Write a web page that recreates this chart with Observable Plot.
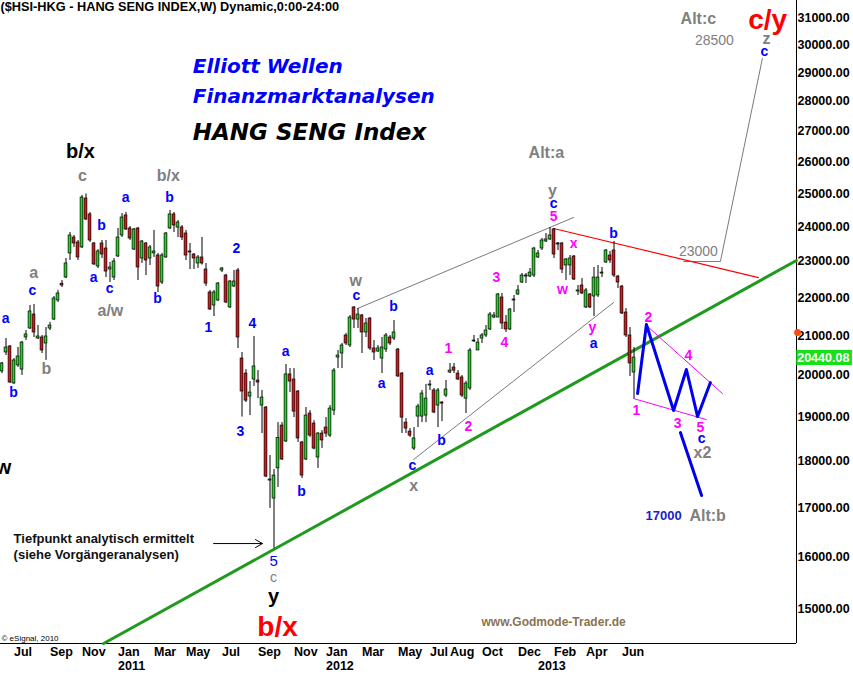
<!DOCTYPE html>
<html><head><meta charset="utf-8">
<script src="https://cdn.jsdelivr.net/npm/d3@7"></script>
<script src="https://cdn.jsdelivr.net/npm/@observablehq/plot@0.6"></script>
<style>
body{margin:0;background:#fff;}
#chart{position:absolute;left:0;top:0;}
</style></head><body><div id="chart"></div>
<script>
// ---- weekly bars, first bar = week of 2010-06-14 ----
const firstWeek = "2010-06-14";
const open = [20094,20568,20720,19800,20243,20140,20950,21183,21550,20924,20950,20796,21182,21417,21924,22380,22551,23228,23688,23543,
23400,24850,24368,23515,22860,23515,23370,22775,22551,23142,23747,24338,23952,23340,23952,23085,23515,23085,23228,23170,
22414,23114,23952,24368,23981,23981,23805,23285,23199,22944,23114,22775,22141,21790,21924,22746,22607,21737,22304,22746,
20416,20042,19484,19896,19871,19270,19223,17574,17190,17838,18802,18437,20020,19896,19605,18415,18034,19081,18848,18078,
18618,18756,18572,19152,20441,20542,21002,20745,21737,21417,21524,21080,21443,20669,20593,20416,20643,20950,20924,20643,
20042,18870,18664,18278,19011,19011,19034,19750,19629,19270,19340,19508,20068,20191,20042,19946,19435,19678,20850,20618,
20924,21002,21157,21470,21470,22005,21337,21157,21924,22087,22414,22607,22579,22607,23114,23370,23572,23631,23923,23515,
23515,22888,22888,23142,22168,22331,21737,22087,22032,22060,22663,22972,23170,23313,22579,22304,21603,21002,20068];
const high = [20317,20924,20745,20416,20694,20850,21130,21790,21817,21260,21002,21208,21340,22032,22196,22469,23085,23835,23747,23601,
24942,24988,24428,23540,23340,23601,23601,22972,23085,23952,24398,24428,24010,23952,23981,23601,23543,23457,23893,23228,
23228,23835,24487,24428,24187,24040,23893,23515,23220,23170,23688,22944,22196,22196,22414,22832,22640,22469,22746,22803,
20567,20140,19847,20976,20116,19629,19247,18123,17816,18870,18870,20268,20166,20166,19629,18440,19223,19152,18916,18640,
18687,18987,19270,20166,20618,20796,21053,21524,21763,21710,21550,21443,21470,20872,20745,20950,21053,21002,21390,20669,
20070,18963,18733,18756,19300,19629,19774,19871,19678,19678,19364,19871,20292,20292,20116,19995,19850,20669,21002,20924,
21053,21260,21604,21604,22114,22114,21524,21710,22060,22331,22663,22663,22803,23400,23313,23659,23805,23981,23952,23543,
23540,23085,23170,23170,22331,22523,22250,22114,22832,22888,22832,23340,23285,23572,22607,22330,21710,21208,20694];
const low = [20040,20491,19800,19780,20193,19995,20872,21157,20950,20898,20542,20367,21130,21390,21870,22277,22523,23028,23400,23028,
23370,24187,23543,22888,22803,23085,22551,22414,22469,23114,23688,23893,23601,23313,22469,22944,22607,22888,23114,22141,
22358,23090,23923,23835,23688,23601,23028,22775,22775,22803,22900,22304,21657,21497,21897,22689,21840,21710,22280,20669,
18999,19340,19034,19726,19435,18618,17638,16983,16170,17425,18011,18414,19580,18987,18415,17618,18011,18530,18250,17838,
18278,18530,18530,19034,20166,20166,20745,20694,21183,21183,20542,20950,20618,20367,20567,20042,20567,20745,20872,19946,
18618,18618,18530,18234,18756,18870,18870,19629,19081,18756,18893,19460,20040,20042,19871,19460,19081,19629,20820,20618,
20796,20950,21130,21443,21470,21157,21080,21130,21604,22060,22385,22385,22551,22551,23085,23313,23543,23601,23085,23313,
22660,22469,22607,22469,22060,22087,21710,21710,21497,22005,22551,22944,22944,22551,22250,21550,20950,19970,19426];
const close = [20293,20694,19823,20367,20466,20820,21028,21630,21080,20976,20618,20976,21260,21978,22114,22331,22944,23747,23515,23114,
24880,24217,23601,22917,23285,23199,22718,22832,23000,23688,24277,23923,23659,23923,22832,23572,23028,23400,23285,22304,
23170,23805,24368,24040,24128,23688,23170,23257,23085,23114,22944,22385,21683,22141,22385,22803,21870,22441,22441,20950,
19605,19387,19580,20218,19822,19460,17660,17596,17682,18520,18034,20020,19847,19128,18507,17682,19034,18572,18278,18618,
18461,18618,19199,20116,20491,20745,20796,21470,21417,21550,21080,21313,20669,20567,20669,20694,21002,20796,21080,19971,
18987,18733,18572,18507,19247,19556,19435,19774,19105,19629,19317,19653,20116,20116,19896,19508,19798,20618,20872,20820,
21002,21130,21550,21524,22087,21313,21157,21683,21951,22196,22607,22579,22689,23370,23228,23601,23631,23747,23199,23486,
22775,23057,23085,22496,22196,22114,22196,21737,22551,22551,22689,23313,23028,22607,22414,21577,21002,20292,20440.08];
const lastPrice = 20440.08;

// ---- axes ----
const yTicks = [15000,16000,17000,18000,19000,20000,21000,22000,23000,24000,25000,26000,27000,28000,29000,30000,31000];
const monthTicks = ["2010-07-05","2010-09-06","2010-11-01","2011-01-03","2011-03-07","2011-05-02","2011-07-04","2011-09-05","2011-11-07","2012-01-02","2012-03-05","2012-05-07","2012-07-02","2012-08-06","2012-10-01","2012-12-03","2013-02-04","2013-04-01","2013-06-03"];
const monthLabels = ["Jul","Sep","Nov","Jan","Mar","May","Jul","Sep","Nov","Jan","Mar","May","Jul","Aug","Oct","Dec","Feb","Apr","Jun"];
const yearTicks = ["2011-01-03","2012-01-02","2013-01-07"];
const yearLabels = ["2011","2012","2013"];

// ---- annotations: [week number, price, text] ----
const blueLabels = [[0.9,21444,"a"],[2.9,19581,"b"],[7.6,22196,"c"],[24.9,24040,"b"],[22.9,22551,"a"],[26.9,22250,"c"],
[30.9,24881,"a"],[41.9,24881,"b"],[38.9,21978,"b"],[51.6,21208,"1"],[58.6,23370,"2"],[62.6,21312,"4"],[59.6,18664,"3"],
[70.9,20592,"a"],[74.9,17339,"b"],[88.6,22060,"c"],[97.9,21764,"b"],[94.9,19799,"a"],[102.6,17903,"c"],[106.9,20116,"a"],
[109.9,18461,"b"],[147.9,20796,"a"],[137.9,24698,"c"],[152.9,23805,"b"],[174.9,18505,"c"],[190.6,29768,"c"]];
const blueThinLabels = [[67.9,15910,"5"]];
const magentaLabels = [[111.6,20668,"1"],[116.6,18780,"2"],[123.6,22551,"3"],[125.6,20820,"4"],[137.9,24308,"5"],
[140.1,22223,"w"],[142.9,23515,"x"],[147.6,21208,"y"],[161.6,21470,"2"],[158.6,19152,"1"],[171.6,20491,"4"],
[168.9,18848,"3"],[174.6,18756,"5"]];
const greyLabels = [[20.1,25563,"c"],[41.6,25563,"b/x"],[7.9,22690,"a"],[11.1,20167,"b"],[27.1,21657,"a/w"],
[88.4,22469,"w"],[102.9,17467,"x"],[137.6,25095,"y"],[136.1,26294,"Alt:a"],[175.1,18190,"x2"],[176.4,16833,"Alt:b"],
[174.1,31000,"Alt:c"],[191.1,30240,"z"]];
const greyThinLabels = [[178.1,30173,"28500"],[174.1,23285,"23000"],[67.9,15600,"c"]];
const blackLabels = [[19.6,26329,"b/x"],[67.9,15240,"y"],[0.4,17860,"w"]];
const redLabels = [[68.9,14689,"b/x"],[191.4,30924,"c/y"]];
const targetLabels = [[165.4,16833,"17000"]];
const titleLines = [[47.7,29224,"Elliott Wellen"],[47.7,28167,"Finanzmarktanalysen"]];
const indexTitle = [[47.7,26949,"HANG SENG Index"]];
const noteText = [[2.9,16225,"Tiefpunkt analytisch ermittelt\n(siehe Vorgängeranalysen)"]];
const sourceText = [[137.9,14770,"www.Godmode-Trader.de"]];
const header = "($HSI-HKG - HANG SENG INDEX,W) Dynamic,0:00-24:00";

// ---- drawn lines: [week number, price] ----
const supportLine = [[25.4,14386],[198.6,23028]];
const resistanceLine = [[137.9,23952],[189.1,22551]];
const upperChannel = [[88.9,21710],[142.9,24278]];
const lowerChannel = [[102.9,18034],[152.9,21870]];
const altCPath = [[170.4,23000],[179.6,23000],[190.1,29514]];
const bluePath = [[158.9,19557],[161.1,21286],[167.9,19152],[171.1,20142],[173.9,19011],[177.1,19822]];
const blueDown = [[169.6,18641],[174.9,17254]];
const magentaUpper = [[161.4,21234],[180.1,19557]];
const magentaLower = [[157.9,19436],[176.1,18940]];
const arrowLine = [[52.9,16265,65.1,16265]];

// ---- build ----
const DAY = 864e5;
const t0 = Date.parse(firstWeek + "T00:00:00Z");
const wk = w => new Date(t0 + w * 7 * DAY);
const bars = close.map((c, i) => ({date: wk(i), open: open[i], high: high[i], low: low[i], close: c}));
const P = () => ({x: d => wk(d[0]), y: d => d[1]});
const T = () => ({x: d => wk(d[0]), y: d => d[1], text: d => d[2]});
const font = "Liberation Sans, Arial, sans-serif";
const monthMap = new Map(monthTicks.map((d, i) => [Date.parse(d + "T00:00:00Z"), monthLabels[i]]));
const yearMap = new Map(yearTicks.map((d, i) => [Date.parse(d + "T00:00:00Z"), yearLabels[i]]));
const halfBody = 1.4 / (4 / 7); // days for 1.4px

const chart = Plot.plot({
  width: 853, height: 675,
  marginLeft: 0, marginRight: 57, marginTop: 0, marginBottom: 32,
  style: {fontFamily: font, background: "#fff", overflow: "visible"},
  x: {type: "utc", domain: [wk(-0.375), wk(198.625)]},
  y: {type: "log", domain: [14386, 31693]},
  marks: [
    Plot.ruleX([wk(198.625)], {stroke: "#000", strokeWidth: 1}),
    Plot.ruleY([14386], {stroke: "#000", strokeWidth: 1}),
    Plot.axisY(yTicks, {anchor: "right", tickSize: 0, tickPadding: 1, textAnchor: "start",
      tickFormat: d => d.toFixed(2), fontSize: 12.5, fontWeight: "bold", fill: "#000"}),
    Plot.axisX(monthTicks.map(d => new Date(d + "T00:00:00Z")), {anchor: "bottom", tickSize: 0, tickPadding: 4,
      textAnchor: "start", tickFormat: d => monthMap.get(+d), fontSize: 12.5, fontWeight: "bold", fill: "#000"}),
    Plot.axisX(yearTicks.map(d => new Date(d + "T00:00:00Z")), {anchor: "bottom", tickSize: 0, tickPadding: 18,
      textAnchor: "start", tickFormat: d => yearMap.get(+d), fontSize: 12.5, fontWeight: "bold", fill: "#000"}),
    Plot.ruleY([lastPrice], {x1: wk(198.7), x2: wk(212.6), stroke: "#16e016", strokeWidth: 15}),
    Plot.text([lastPrice], {y: d => d, x: wk(198.8), text: d => d.toFixed(2), textAnchor: "start",
      fill: "#fff", fontWeight: "bold", fontSize: 12.5}),
    Plot.dot([[198.9, 21080]], {...P(), r: 3.5, fill: "#ff4a10", stroke: "none"}),
    Plot.text([header], {frameAnchor: "top-left", dy: 1, fontSize: 12.75, fontWeight: "bold", fill: "#000"}),
    Plot.text(titleLines, {...T(), textAnchor: "start", fontFamily: "DejaVu Sans", fontWeight: "bold",
      fontStyle: "italic", fontSize: 20, fill: "#0000ff"}),
    Plot.text(indexTitle, {...T(), textAnchor: "start", fontFamily: "DejaVu Sans", fontWeight: "bold",
      fontStyle: "italic", fontSize: 23, fill: "#000"}),
    Plot.line(upperChannel, {...P(), stroke: "#7a7a7a", strokeWidth: 1}),
    Plot.line(lowerChannel, {...P(), stroke: "#7a7a7a", strokeWidth: 1}),
    Plot.line(altCPath, {...P(), stroke: "#7a7a7a", strokeWidth: 1}),
    Plot.line(resistanceLine, {...P(), stroke: "#ff0000", strokeWidth: 1.2}),
    Plot.line(supportLine, {...P(), stroke: "#1f9a1f", strokeWidth: 3}),
    Plot.ruleX(bars, {x: "date", y1: "low", y2: "high", stroke: "#000", strokeWidth: 1}),
    Plot.rect(bars, {x1: d => new Date(+d.date - halfBody * DAY), x2: d => new Date(+d.date + halfBody * DAY),
      y1: "open", y2: "close", fill: d => d.close >= d.open ? "#1ed81e" : "#e01414", stroke: "#000", strokeWidth: 0.7}),
    Plot.line(magentaUpper, {...P(), stroke: "#ff00ff", strokeWidth: 1}),
    Plot.line(magentaLower, {...P(), stroke: "#ff00ff", strokeWidth: 1}),
    Plot.line(bluePath, {...P(), stroke: "#0000ee", strokeWidth: 3}),
    Plot.line(blueDown, {...P(), stroke: "#0000ee", strokeWidth: 3}),
    Plot.arrow(arrowLine, {x1: d => wk(d[0]), y1: d => d[1], x2: d => wk(d[2]), y2: d => d[3],
      stroke: "#000", strokeWidth: 1, headLength: 12, bend: 0}),
    Plot.text(blueLabels, {...T(), fill: "#0000ff", fontWeight: "bold", fontSize: 14}),
    Plot.text(blueThinLabels, {...T(), fill: "#0000ff", fontSize: 15}),
    Plot.text(magentaLabels, {...T(), fill: "#ff00ff", fontWeight: "bold", fontSize: 14}),
    Plot.text(greyLabels, {...T(), fill: "#808080", fontWeight: "bold", fontSize: 16}),
    Plot.text(greyThinLabels, {...T(), fill: "#808080", fontSize: 14}),
    Plot.text(blackLabels, {...T(), fill: "#000", fontWeight: "bold", fontSize: 20}),
    Plot.text(redLabels, {...T(), fill: "#ff0000", fontWeight: "bold", fontSize: 28}),
    Plot.text(targetLabels, {...T(), fill: "#1c1cc8", fontWeight: "bold", fontSize: 13}),
    Plot.text(noteText, {...T(), textAnchor: "start", fill: "#111", fontWeight: "bold", fontSize: 13, lineHeight: 1.23}),
    Plot.text(sourceText, {...T(), fill: "#8a7350", fontWeight: "bold", fontSize: 12}),
    Plot.text(["© eSignal, 2010"], {frameAnchor: "bottom-left", dx: 1, dy: -3, fontSize: 8, fill: "#000"})
  ]
});
document.getElementById("chart").appendChild(chart);
</script></body></html>
